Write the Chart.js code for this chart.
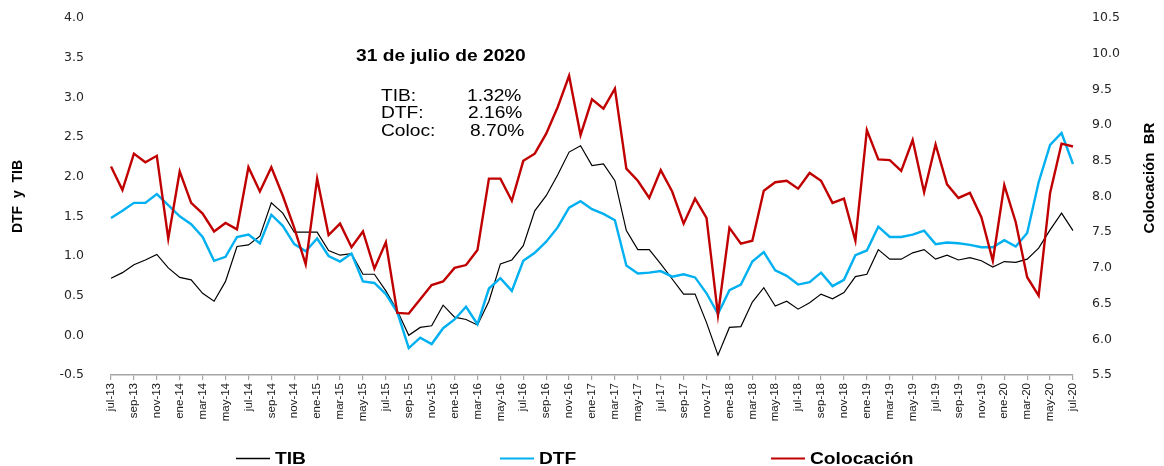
<!DOCTYPE html>
<html>
<head>
<meta charset="utf-8">
<script src="https://cdn.jsdelivr.net/npm/chart.js@4.4.1/dist/chart.umd.min.js"></script>
<style>
  html, body { margin: 0; padding: 0; background: #fff; }
  #wrap { position: relative; width: 1164px; height: 466px; }
</style>
</head>
<body>
<div id="wrap"><canvas id="chart" width="1164" height="466"></canvas></div>
<script>
// meses jul-13 .. jul-20
const MESES = ["ene","feb","mar","abr","may","jun","jul","ago","sep","oct","nov","dic"];
const labels = [];
for (let y = 13, m = 6; y < 20 || (y === 20 && m <= 6); ) {
  labels.push(MESES[m] + "-" + y);
  m++; if (m === 12) { m = 0; y++; }
}

const tib = [
  0.72, 0.79, 0.89, 0.95, 1.02, 0.85, 0.73, 0.70, 0.53, 0.43, 0.68, 1.12,
  1.14, 1.25, 1.67, 1.54, 1.30, 1.30, 1.30, 1.07, 1.01, 1.03, 0.77, 0.77,
  0.56, 0.31, 0.00, 0.10, 0.12, 0.38, 0.23, 0.20, 0.13, 0.43, 0.90, 0.95,
  1.13, 1.57, 1.76, 2.02, 2.31, 2.39, 2.14, 2.16, 1.95, 1.32, 1.08, 1.08,
  0.90, 0.71, 0.52, 0.52, 0.16, -0.25, 0.10, 0.11, 0.42, 0.60, 0.37, 0.43,
  0.33, 0.41, 0.52, 0.46, 0.54, 0.74, 0.77, 1.08, 0.96, 0.96, 1.04, 1.08,
  0.96, 1.01, 0.95, 0.98, 0.94, 0.86, 0.93, 0.92, 0.96, 1.10, 1.33, 1.54,
  1.32
];
const dtf = [
  1.48, 1.57, 1.67, 1.67, 1.78, 1.64, 1.50, 1.40, 1.24, 0.94, 0.99, 1.24,
  1.27, 1.16, 1.52, 1.38, 1.15, 1.06, 1.22, 1.00, 0.93, 1.03, 0.68, 0.66,
  0.52, 0.29, -0.16, -0.03, -0.11, 0.09, 0.20, 0.36, 0.14, 0.59, 0.72, 0.56,
  0.94, 1.04, 1.18, 1.36, 1.61, 1.69, 1.59, 1.53, 1.45, 0.88, 0.78, 0.79,
  0.81, 0.74, 0.77, 0.73, 0.53, 0.27, 0.57, 0.64, 0.93, 1.05, 0.82, 0.75,
  0.64, 0.67, 0.79, 0.62, 0.70, 1.01, 1.07, 1.37, 1.24, 1.24, 1.27, 1.32,
  1.15, 1.17, 1.16, 1.14, 1.11, 1.11, 1.20, 1.12, 1.29, 1.93, 2.40, 2.55,
  2.16
];
const colocacion = [
  8.42, 8.09, 8.60, 8.48, 8.57, 7.41, 8.35, 7.91, 7.76, 7.51, 7.63, 7.54,
  8.41, 8.07, 8.41, 8.01, 7.56, 7.05, 8.25, 7.46, 7.62, 7.29, 7.51, 6.99,
  7.36, 6.37, 6.36, 6.56, 6.76, 6.81, 7.00, 7.04, 7.25, 8.25, 8.25, 7.94,
  8.50, 8.60, 8.88, 9.25, 9.69, 8.86, 9.36, 9.23, 9.51, 8.39, 8.22, 7.98,
  8.37, 8.07, 7.62, 7.97, 7.70, 6.34, 7.56, 7.34, 7.38, 8.08, 8.20, 8.22,
  8.11, 8.33, 8.22, 7.91, 7.97, 7.38, 8.93, 8.52, 8.51, 8.36, 8.79, 8.06,
  8.73, 8.17, 7.98, 8.05, 7.71, 7.10, 8.16, 7.64, 6.87, 6.61, 8.05, 8.74,
  8.70
];

const nota = { fecha: "31 de julio de 2020", filas: [["TIB:", "1.32%"], ["DTF:", "2.16%"], ["Coloc:", "8.70%"]] };

const ARIAL = "'Liberation Sans', Arial, sans-serif";

// texto un poco ensanchado, como en la imagen original
function wideText(ctx, text, x, y, font, sx) {
  ctx.save();
  ctx.font = font;
  ctx.fillStyle = "#000";
  ctx.textBaseline = "alphabetic";
  ctx.textAlign = "left";
  ctx.translate(x, y);
  ctx.scale(sx, 1);
  ctx.fillText(text, 0, 0);
  ctx.restore();
}

function vertText(ctx, text, x, y, font) {
  ctx.save();
  ctx.font = font;
  ctx.fillStyle = "#000";
  ctx.textAlign = "center";
  ctx.textBaseline = "middle";
  ctx.translate(x, y);
  ctx.rotate(-Math.PI / 2);
  ctx.fillText(text, 0, 0);
  ctx.restore();
}

const extras = {
  id: "extras",
  afterDraw(chart) {
    const ctx = chart.ctx;
    const area = chart.chartArea;
    // nota
    wideText(ctx, nota.fecha, 356, 61, "bold 16px " + ARIAL, 1.2);
    const base = [101, 118, 136];
    const valX = [467, 468, 470];
    nota.filas.forEach(function(f, i) {
      wideText(ctx, f[0], 381, base[i], "16px " + ARIAL, 1.2);
      wideText(ctx, f[1], valX[i], base[i], "16px " + ARIAL, 1.2);
    });
    // titulos de ejes
    vertText(ctx, "DTF  y  TIB", 18.5, (area.top + area.bottom) / 2, "bold 14px " + ARIAL);
    vertText(ctx, "Colocación  BR", 1150, 178, "bold 15px " + ARIAL);
    // leyenda
    const pos = [236, 500, 771];
    chart.data.datasets.forEach(function(ds, i) {
      ctx.save();
      ctx.strokeStyle = ds.borderColor;
      ctx.lineWidth = i === 0 ? 1.3 : 2;
      ctx.beginPath();
      ctx.moveTo(pos[i], 458.5);
      ctx.lineTo(pos[i] + 34, 458.5);
      ctx.stroke();
      ctx.restore();
      wideText(ctx, ds.label, pos[i] + 39, 464, "bold 16px " + ARIAL, 1.2);
    });
  }
};

new Chart(document.getElementById("chart"), {
  type: "line",
  data: {
    labels: labels,
    datasets: [
      { label: "TIB", data: tib, yAxisID: "y", borderColor: "#000000", borderWidth: 1.2, order: 3 },
      { label: "DTF", data: dtf, yAxisID: "y", borderColor: "#00b0f0", borderWidth: 2.4, order: 2 },
      { label: "Colocación", data: colocacion, yAxisID: "y1", borderColor: "#c00000", borderWidth: 2.4, order: 1 }
    ]
  },
  options: {
    responsive: false,
    devicePixelRatio: 1,
    animation: false,
    layout: { padding: { top: 18, left: 0, right: 0, bottom: 0 } },
    elements: { point: { radius: 0 }, line: { tension: 0 } },
    plugins: { legend: { display: false }, tooltip: { enabled: false } },
    scales: {
      x: {
        type: "category",
        grid: { display: true, drawOnChartArea: false, drawTicks: true, tickLength: 5, color: "#a6a6a6", lineWidth: 1.2 },
        border: { display: true, color: "#a6a6a6", width: 1.5 },
        ticks: {
          autoSkip: false, minRotation: 90, maxRotation: 90, padding: 3,
          color: "#1a1a1a", font: { family: ARIAL, size: 11.5 },
          callback: function(v, i) { return i % 2 === 0 ? labels[i] : null; }
        },
        afterFit: function(s) { s.height = 91; }
      },
      y: {
        position: "left", min: -0.5, max: 4,
        grid: { display: false, drawTicks: false },
        border: { display: false },
        ticks: {
          stepSize: 0.5, padding: 27, color: "#262626",
          font: { family: "'DejaVu Sans', Verdana, sans-serif", size: 12.5 },
          callback: function(v) { return v.toFixed(1); }
        },
        afterFit: function(s) { s.width = 111; s.paddingTop = 0; s.paddingBottom = 0; }
      },
      y1: {
        position: "right", min: 5.5, max: 10.5,
        grid: { display: false, drawTicks: false },
        border: { display: false },
        ticks: {
          stepSize: 0.5, padding: 19, color: "#262626",
          font: { family: "'DejaVu Sans', Verdana, sans-serif", size: 12.5 },
          callback: function(v) { return v.toFixed(1); }
        },
        afterFit: function(s) { s.width = 91; s.paddingTop = 0; s.paddingBottom = 0; }
      }
    }
  },
  plugins: [extras]
});
</script>
</body>
</html>
